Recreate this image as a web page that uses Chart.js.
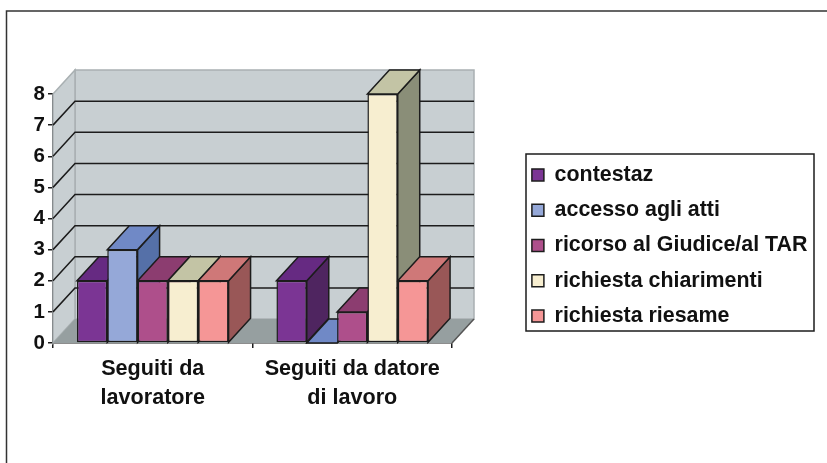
<!DOCTYPE html>
<html>
<head>
<meta charset="utf-8">
<style>
  body { margin: 0; background: #fff; }
</style>
<script src="https://cdn.jsdelivr.net/npm/chart.js@4"></script>
</head>
<body>
<canvas id="myChart" width="827" height="463"></canvas>
<script>
const categories = [["Seguiti da", "lavoratore"], ["Seguiti da datore", "di lavoro"]];
const seriesNames = ["contestaz", "accesso agli atti", "ricorso al Giudice/al TAR", "richiesta chiarimenti", "richiesta riesame"];
const contestaz = [2, 2];
const accessoAtti = [3, 0];
const ricorso = [2, 1];
const chiarimenti = [2, 8];
const riesame = [2, 2];
const seriesValues = [contestaz, accessoAtti, ricorso, chiarimenti, riesame];
const yTicks = [0, 1, 2, 3, 4, 5, 6, 7, 8];

const frontColors = ["#7b3594", "#95a8d8", "#ae4f8b", "#f7eed0", "#f59696"];
const topColors = ["#662a82", "#7089c6", "#8c3d70", "#c3c4a5", "#cf7878"];
const sideColors = ["#4f2560", "#5570a8", "#6f3159", "#8a8e78", "#995757"];
const lineColor = "#1c1c1c";
const depthX = 22;
const depthY = -24;
const fontFamily = "'Liberation Sans', Arial, sans-serif";

const polygon = (ctx, points, fill, stroke, width) => {
  ctx.beginPath();
  points.forEach((p, i) => (i ? ctx.lineTo(p[0], p[1]) : ctx.moveTo(p[0], p[1])));
  ctx.closePath();
  ctx.fillStyle = fill;
  ctx.fill();
  if (stroke) {
    ctx.strokeStyle = stroke;
    ctx.lineWidth = width;
    ctx.stroke();
  }
};

// back wall, side wall, floor and the depth of every bar
const box3d = {
  id: "box3d",
  beforeDatasetsDraw(chart) {
    const ctx = chart.ctx;
    const { left, right } = chart.chartArea;
    const y = chart.scales.y;
    const top = y.getPixelForValue(8);
    const bottom = y.getPixelForValue(0);
    ctx.save();

    polygon(ctx, [[left + depthX, top + depthY], [right + depthX, top + depthY], [right + depthX, bottom + depthY], [left + depthX, bottom + depthY]], "#c8cfd2", "#a9b0b2", 1.5);
    polygon(ctx, [[left, top], [left + depthX, top + depthY], [left + depthX, bottom + depthY], [left, bottom]], "#c8cfd2", "#a9b0b2", 1.5);
    polygon(ctx, [[left, bottom], [right, bottom], [right + depthX, bottom + depthY], [left + depthX, bottom + depthY]], "#969fa0");

    ctx.strokeStyle = lineColor;
    ctx.lineWidth = 1.5;
    yTicks.slice(1, -1).forEach((v) => {
      const py = y.getPixelForValue(v);
      ctx.beginPath();
      ctx.moveTo(left, py);
      ctx.lineTo(left + depthX, py + depthY);
      ctx.lineTo(right + depthX, py + depthY);
      ctx.stroke();
    });

    ctx.strokeStyle = "#555";
    ctx.beginPath();
    ctx.moveTo(right, bottom);
    ctx.lineTo(right + depthX, bottom + depthY);
    ctx.stroke();

    categories.forEach((c, index) => {
      seriesValues.forEach((s, i) => {
        const bar = chart.getDatasetMeta(i).data[index];
        const x0 = bar.x - bar.width / 2;
        const x1 = bar.x + bar.width / 2;
        polygon(ctx, [[x1, bar.y], [x1 + depthX, bar.y + depthY], [x1 + depthX, bar.base + depthY], [x1, bar.base]], sideColors[i], lineColor, 1.5);
        polygon(ctx, [[x0, bar.y], [x1, bar.y], [x1 + depthX, bar.y + depthY], [x0 + depthX, bar.y + depthY]], topColors[i], lineColor, 1.5);
      });
    });
    ctx.restore();
  },
  afterDraw(chart) {
    const ctx = chart.ctx;
    ctx.save();
    // legend box
    ctx.strokeStyle = lineColor;
    ctx.lineWidth = 1.5;
    ctx.strokeRect(526, 154, 288, 177);
    // outer frame of the picture
    ctx.strokeStyle = "#333";
    ctx.beginPath();
    ctx.moveTo(6.5, 463);
    ctx.lineTo(6.5, 11);
    ctx.lineTo(827, 11);
    ctx.stroke();
    ctx.restore();
  },
};

const chart = new Chart(document.querySelector("#myChart"), {
  type: "bar",
  plugins: [box3d],
  data: {
    labels: categories,
    datasets: seriesNames.map((name, i) => ({
      label: name,
      data: seriesValues[i],
      backgroundColor: frontColors[i],
      borderColor: lineColor,
      borderWidth: 1.5,
      borderSkipped: false,
    })),
  },
  options: {
    responsive: false,
    animation: false,
    layout: { padding: { left: 0, top: 73, right: 17, bottom: 45 } },
    datasets: { bar: { barPercentage: 1, categoryPercentage: 0.76 } },
    plugins: {
      title: { display: false },
      tooltip: { enabled: false },
      legend: {
        position: "right",
        maxWidth: 292,
        labels: {
          boxWidth: 12,
          boxHeight: 12,
          padding: 13.9,
          color: "#111",
          font: { family: fontFamily, size: 21.4, weight: "bold" },
        },
      },
    },
    scales: {
      x: {
        afterFit: (scale) => { scale.height = 75; },
        grid: { display: true, drawOnChartArea: false, tickLength: 5, color: lineColor, lineWidth: 1.5 },
        border: { display: true, color: lineColor, width: 1.5 },
        ticks: {
          color: "#111",
          padding: 7,
          maxRotation: 0,
          font: { family: fontFamily, size: 21.6, weight: "bold", lineHeight: 1.34 },
        },
      },
      y: {
        min: 0,
        max: 8,
        afterFit: (scale) => { scale.width = 53; },
        grid: { display: true, drawOnChartArea: false, tickLength: 5, color: lineColor, lineWidth: 1.5 },
        border: { display: true, color: lineColor, width: 1.5 },
        ticks: {
          stepSize: 1,
          color: "#111",
          padding: 3,
          font: { family: fontFamily, size: 20.5, weight: "bold" },
        },
      },
      // keep the plot clear of the legend and of the top of the picture
      gap: {
        axis: "y",
        position: "right",
        afterFit: (scale) => { scale.width = 66; },
        grid: { display: false },
        border: { display: false },
        ticks: { display: false },
      },
      headroom: {
        axis: "x",
        position: "top",
        afterFit: (scale) => { scale.height = 21; },
        grid: { display: false },
        border: { display: false },
        ticks: { display: false },
      },
    },
  },
});
</script>
</body>
</html>
